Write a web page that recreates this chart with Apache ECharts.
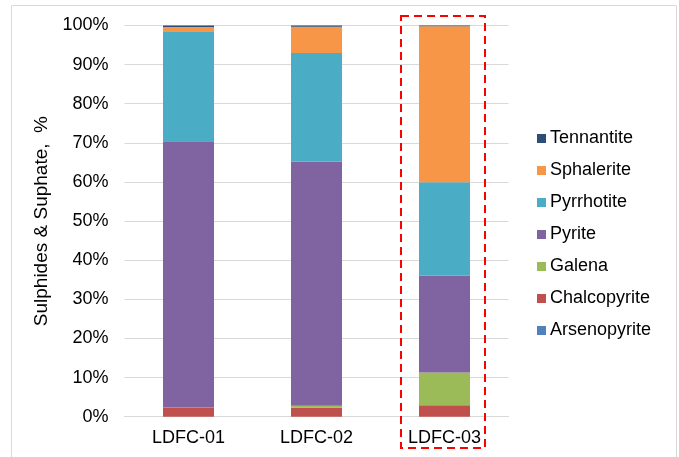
<!DOCTYPE html>
<html><head><meta charset="utf-8">
<script src="https://cdn.jsdelivr.net/npm/echarts@6/dist/echarts.min.js"></script>
<style>html,body{margin:0;padding:0;background:#fff}#c{width:679px;height:457px}</style>
</head><body><div id="c"></div>
<script>
var categories = ['LDFC-01', 'LDFC-02', 'LDFC-03'];
var arsenopyrite = [0, 0, 0];
var chalcopyrite = [2.4, 2.3, 2.9];
var galena = [0.1, 0.5, 8.4];
var pyrite = [67.9, 62.4, 24.7];
var pyrrhotite = [28.1, 27.8, 23.9];
var sphalerite = [1.1, 6.7, 39.9];
var tennantite = [0.4, 0.3, 0.2];
var yTicks = [0, 10, 20, 30, 40, 50, 60, 70, 80, 90, 100];

var seriesDefs = [
  ['Arsenopyrite', arsenopyrite, '#4F81BD'],
  ['Chalcopyrite', chalcopyrite, '#C0504D'],
  ['Galena', galena, '#9BBB59'],
  ['Pyrite', pyrite, '#8064A2'],
  ['Pyrrhotite', pyrrhotite, '#4BACC6'],
  ['Sphalerite', sphalerite, '#F79646'],
  ['Tennantite', tennantite, '#2C4D75']
];
var font = 'Liberation Sans, Arial, sans-serif';
var chart = echarts.init(document.getElementById('c'), null, {renderer: 'canvas'});
chart.setOption({
  animation: false,
  textStyle: {fontFamily: font},
  grid: {left: 124.5, right: 170.5, top: 25.5, bottom: 40.3},
  legend: {
    orient: 'vertical', left: 532, top: 123, itemWidth: 9, itemHeight: 9, itemGap: 11,
    icon: 'rect',
    data: seriesDefs.map(function(s){return s[0];}).reverse(),
    textStyle: {fontFamily: font, fontSize: 18, color: '#000', padding: [0,0,0,-1], lineHeight: 21}
  },
  xAxis: {
    type: 'category', data: categories,
    axisLine: {lineStyle: {color: '#d9d9d9', width: 1}},
    axisTick: {show: false},
    axisLabel: {fontFamily: font, fontSize: 18, color: '#000', margin: 12}
  },
  yAxis: {
    type: 'value', min: yTicks[0], max: yTicks[yTicks.length-1], interval: 10,
    name: 'Sulphides & Suphate,  %', nameLocation: 'middle', nameGap: 73, nameRotate: 90,
    nameTextStyle: {fontFamily: font, fontSize: 19, color: '#000'},
    axisLine: {show: false}, axisTick: {show: false},
    splitLine: {lineStyle: {color: '#d9d9d9', width: 1}},
    axisLabel: {fontFamily: font, fontSize: 18, color: '#000', margin: 16,
      formatter: function(v){return v + '%';}}
  },
  series: seriesDefs.map(function(s){
    return {name: s[0], type: 'bar', stack: 'total', data: s[1], barWidth: 51,
      itemStyle: {color: s[2]}};
  }),
  graphic: [
    {type: 'rect', shape: {x: 11.5, y: 5.5, width: 665, height: 470},
     style: {fill: null, stroke: '#d9d9d9', lineWidth: 1}, silent: true},
    {type: 'rect', shape: {x: 401, y: 16, width: 84, height: 432},
     style: {fill: null, stroke: '#ff0000', lineWidth: 2, lineDash: [8, 5]}, silent: true, z: 100}
  ]
});
</script></body></html>
